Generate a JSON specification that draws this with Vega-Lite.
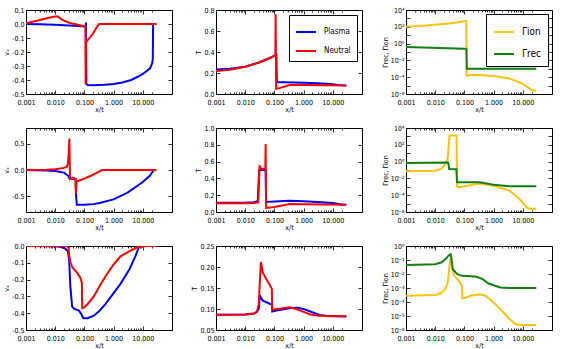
{
"$schema":"https://vega.github.io/schema/vega-lite/v6.json",
"padding":{"left":2,"top":5,"right":0,"bottom":0},
"autosize":{"type":"pad"},
"background":"white",
"bounds":"flush",
"spacing":{"row":34,"column":44},
"columns":3,
"resolve":{"scale":{"color":"independent"}},
"datasets":{
"p11":[
{"s":"Plasma","x":0.001,"y":0.0},{"s":"Plasma","x":0.003,"y":-0.002},{"s":"Plasma","x":0.01,"y":-0.005},{"s":"Plasma","x":0.03,"y":-0.01},{"s":"Plasma","x":0.06,"y":-0.014},{"s":"Plasma","x":0.1,"y":-0.018},{"s":"Plasma","x":0.11,"y":-0.02},{"s":"Plasma","x":0.113,"y":0.01},{"s":"Plasma","x":0.117,"y":-0.43},{"s":"Plasma","x":0.13,"y":-0.436},{"s":"Plasma","x":0.2,"y":-0.437},{"s":"Plasma","x":0.5,"y":-0.434},{"s":"Plasma","x":1,"y":-0.428},{"s":"Plasma","x":2,"y":-0.418},{"s":"Plasma","x":4,"y":-0.4},{"s":"Plasma","x":7,"y":-0.375},{"s":"Plasma","x":10,"y":-0.357},{"s":"Plasma","x":17.7,"y":-0.317},{"s":"Plasma","x":21,"y":-0.28},{"s":"Plasma","x":22,"y":-0.25},{"s":"Plasma","x":22.5,"y":0.0},{"s":"Plasma","x":29,"y":0.0},
{"s":"Neutral","x":0.001,"y":0.005},{"s":"Neutral","x":0.003,"y":0.028},{"s":"Neutral","x":0.006,"y":0.045},{"s":"Neutral","x":0.01,"y":0.054},{"s":"Neutral","x":0.012,"y":0.055},{"s":"Neutral","x":0.016,"y":0.035},{"s":"Neutral","x":0.022,"y":0.02},{"s":"Neutral","x":0.032,"y":0.007},{"s":"Neutral","x":0.06,"y":-0.005},{"s":"Neutral","x":0.1,"y":-0.016},{"s":"Neutral","x":0.108,"y":-0.02},{"s":"Neutral","x":0.11,"y":-0.43},{"s":"Neutral","x":0.114,"y":-0.13},{"s":"Neutral","x":0.15,"y":-0.1},{"s":"Neutral","x":0.2,"y":-0.065},{"s":"Neutral","x":0.27,"y":-0.02},{"s":"Neutral","x":0.32,"y":0.0},{"s":"Neutral","x":29,"y":0.0}
],
"p12":[
{"s":"Plasma","x":0.001,"y":0.234},{"s":"Plasma","x":0.003,"y":0.24},{"s":"Plasma","x":0.01,"y":0.26},{"s":"Plasma","x":0.03,"y":0.3},{"s":"Plasma","x":0.08,"y":0.35},{"s":"Plasma","x":0.1,"y":0.365},{"s":"Plasma","x":0.117,"y":0.372},{"s":"Plasma","x":0.121,"y":0.112},{"s":"Plasma","x":0.2,"y":0.112},{"s":"Plasma","x":0.5,"y":0.11},{"s":"Plasma","x":1,"y":0.108},{"s":"Plasma","x":3,"y":0.103},{"s":"Plasma","x":8,"y":0.095},{"s":"Plasma","x":15,"y":0.085},{"s":"Plasma","x":29,"y":0.08},
{"s":"Neutral","x":0.001,"y":0.219},{"s":"Neutral","x":0.003,"y":0.232},{"s":"Neutral","x":0.01,"y":0.26},{"s":"Neutral","x":0.03,"y":0.3},{"s":"Neutral","x":0.08,"y":0.35},{"s":"Neutral","x":0.1,"y":0.365},{"s":"Neutral","x":0.108,"y":0.372},{"s":"Neutral","x":0.11,"y":0.76},{"s":"Neutral","x":0.115,"y":0.05},{"s":"Neutral","x":0.15,"y":0.056},{"s":"Neutral","x":0.2,"y":0.066},{"s":"Neutral","x":0.33,"y":0.085},{"s":"Neutral","x":1,"y":0.085},{"s":"Neutral","x":5,"y":0.083},{"s":"Neutral","x":29,"y":0.08}
],
"p13":[
{"s":"Γion","x":0.001,"y":100},{"s":"Γion","x":0.003,"y":126},{"s":"Γion","x":0.01,"y":178},{"s":"Γion","x":0.03,"y":251},{"s":"Γion","x":0.06,"y":355},{"s":"Γion","x":0.1,"y":447},{"s":"Γion","x":0.116,"y":501},{"s":"Γion","x":0.12,"y":1.58e-4},{"s":"Γion","x":0.13,"y":1.41e-4},{"s":"Γion","x":0.15,"y":1.78e-4},{"s":"Γion","x":0.3,"y":1.78e-4},{"s":"Γion","x":1,"y":1.41e-4},{"s":"Γion","x":3.5,"y":6.9e-5},{"s":"Γion","x":10,"y":1.6e-5},{"s":"Γion","x":17.7,"y":4e-6},{"s":"Γion","x":22,"y":2.7e-6},{"s":"Γion","x":29,"y":2.7e-6},
{"s":"Γrec","x":0.001,"y":0.398},{"s":"Γrec","x":0.1,"y":0.251},{"s":"Γrec","x":0.117,"y":0.224},{"s":"Γrec","x":0.121,"y":0.001},{"s":"Γrec","x":29,"y":0.001}
],
"p21":[
{"s":"Plasma","x":0.001,"y":0.0},{"s":"Plasma","x":0.005,"y":-0.01},{"s":"Plasma","x":0.01,"y":-0.02},{"s":"Plasma","x":0.02,"y":-0.05},{"s":"Plasma","x":0.028,"y":-0.11},{"s":"Plasma","x":0.03,"y":-0.15},{"s":"Plasma","x":0.033,"y":-0.17},{"s":"Plasma","x":0.05,"y":-0.17},{"s":"Plasma","x":0.052,"y":-0.5},{"s":"Plasma","x":0.055,"y":-0.66},{"s":"Plasma","x":0.1,"y":-0.66},{"s":"Plasma","x":0.2,"y":-0.65},{"s":"Plasma","x":0.33,"y":-0.63},{"s":"Plasma","x":1,"y":-0.56},{"s":"Plasma","x":3,"y":-0.43},{"s":"Plasma","x":10,"y":-0.23},{"s":"Plasma","x":18,"y":-0.1},{"s":"Plasma","x":23,"y":-0.01},{"s":"Plasma","x":29,"y":0.0},
{"s":"Neutral","x":0.001,"y":0.0},{"s":"Neutral","x":0.005,"y":0.005},{"s":"Neutral","x":0.01,"y":0.015},{"s":"Neutral","x":0.02,"y":0.04},{"s":"Neutral","x":0.025,"y":0.06},{"s":"Neutral","x":0.027,"y":0.12},{"s":"Neutral","x":0.029,"y":0.3},{"s":"Neutral","x":0.0305,"y":0.6},{"s":"Neutral","x":0.032,"y":-0.1},{"s":"Neutral","x":0.033,"y":-0.17},{"s":"Neutral","x":0.04,"y":-0.15},{"s":"Neutral","x":0.05,"y":-0.17},{"s":"Neutral","x":0.051,"y":-0.45},{"s":"Neutral","x":0.054,"y":-0.22},{"s":"Neutral","x":0.1,"y":-0.165},{"s":"Neutral","x":0.165,"y":-0.11},{"s":"Neutral","x":0.33,"y":-0.025},{"s":"Neutral","x":0.4,"y":0.0},{"s":"Neutral","x":29,"y":0.0}
],
"p22":[
{"s":"Plasma","x":0.001,"y":0.111},{"s":"Plasma","x":0.01,"y":0.113},{"s":"Plasma","x":0.02,"y":0.116},{"s":"Plasma","x":0.027,"y":0.13},{"s":"Plasma","x":0.03,"y":0.5},{"s":"Plasma","x":0.05,"y":0.5},{"s":"Plasma","x":0.052,"y":0.12},{"s":"Plasma","x":0.1,"y":0.125},{"s":"Plasma","x":0.33,"y":0.135},{"s":"Plasma","x":1,"y":0.127},{"s":"Plasma","x":3,"y":0.12},{"s":"Plasma","x":10,"y":0.107},{"s":"Plasma","x":22,"y":0.087},{"s":"Plasma","x":29,"y":0.085},
{"s":"Neutral","x":0.001,"y":0.103},{"s":"Neutral","x":0.01,"y":0.105},{"s":"Neutral","x":0.02,"y":0.108},{"s":"Neutral","x":0.028,"y":0.115},{"s":"Neutral","x":0.031,"y":0.555},{"s":"Neutral","x":0.034,"y":0.516},{"s":"Neutral","x":0.049,"y":0.516},{"s":"Neutral","x":0.05,"y":0.81},{"s":"Neutral","x":0.052,"y":0.048},{"s":"Neutral","x":0.1,"y":0.06},{"s":"Neutral","x":0.33,"y":0.095},{"s":"Neutral","x":1,"y":0.093},{"s":"Neutral","x":5,"y":0.09},{"s":"Neutral","x":29,"y":0.087}
],
"p23":[
{"s":"Γion","x":0.001,"y":0.0692},{"s":"Γion","x":0.01,"y":0.0832},{"s":"Γion","x":0.016,"y":0.132},{"s":"Γion","x":0.022,"y":0.427},{"s":"Γion","x":0.027,"y":2.69},{"s":"Γion","x":0.029,"y":100},{"s":"Γion","x":0.031,"y":1259},{"s":"Γion","x":0.054,"y":1259},{"s":"Γion","x":0.056,"y":0.00115},{"s":"Γion","x":0.065,"y":8.9e-4},{"s":"Γion","x":0.1,"y":0.00115},{"s":"Γion","x":0.33,"y":0.00251},{"s":"Γion","x":1,"y":0.00135},{"s":"Γion","x":3.5,"y":3.47e-4},{"s":"Γion","x":7,"y":5.0e-5},{"s":"Γion","x":10,"y":1.26e-5},{"s":"Γion","x":14,"y":3.16e-6},{"s":"Γion","x":18,"y":2.5e-6},{"s":"Γion","x":29,"y":2.5e-6},
{"s":"Γrec","x":0.001,"y":0.676},{"s":"Γrec","x":0.027,"y":0.794},{"s":"Γrec","x":0.028,"y":0.794},{"s":"Γrec","x":0.03,"y":0.132},{"s":"Γrec","x":0.053,"y":0.126},{"s":"Γrec","x":0.056,"y":0.00339},{"s":"Γrec","x":0.33,"y":0.00339},{"s":"Γrec","x":1,"y":0.00178},{"s":"Γrec","x":3.5,"y":0.00115},{"s":"Γrec","x":29,"y":0.00115}
],
"p31":[
{"s":"Plasma","x":0.001,"y":0},{"s":"Plasma","x":0.01,"y":-0.002},{"s":"Plasma","x":0.016,"y":-0.006},{"s":"Plasma","x":0.022,"y":-0.016},{"s":"Plasma","x":0.027,"y":-0.03},{"s":"Plasma","x":0.03,"y":-0.08},{"s":"Plasma","x":0.033,"y":-0.24},{"s":"Plasma","x":0.038,"y":-0.36},{"s":"Plasma","x":0.045,"y":-0.375},{"s":"Plasma","x":0.065,"y":-0.385},{"s":"Plasma","x":0.078,"y":-0.405},{"s":"Plasma","x":0.092,"y":-0.43},{"s":"Plasma","x":0.13,"y":-0.43},{"s":"Plasma","x":0.21,"y":-0.415},{"s":"Plasma","x":0.33,"y":-0.385},{"s":"Plasma","x":0.53,"y":-0.345},{"s":"Plasma","x":1,"y":-0.28},{"s":"Plasma","x":1.7,"y":-0.227},{"s":"Plasma","x":3.5,"y":-0.138},{"s":"Plasma","x":5.6,"y":-0.06},{"s":"Plasma","x":7,"y":-0.016},{"s":"Plasma","x":8,"y":0},{"s":"Plasma","x":29,"y":0},
{"s":"Neutral","x":0.001,"y":0},{"s":"Neutral","x":0.025,"y":0},{"s":"Neutral","x":0.0284,"y":-0.01},{"s":"Neutral","x":0.031,"y":-0.07},{"s":"Neutral","x":0.0334,"y":-0.1},{"s":"Neutral","x":0.04,"y":-0.13},{"s":"Neutral","x":0.057,"y":-0.16},{"s":"Neutral","x":0.073,"y":-0.19},{"s":"Neutral","x":0.082,"y":-0.22},{"s":"Neutral","x":0.084,"y":-0.37},{"s":"Neutral","x":0.1,"y":-0.365},{"s":"Neutral","x":0.13,"y":-0.345},{"s":"Neutral","x":0.21,"y":-0.3},{"s":"Neutral","x":0.33,"y":-0.24},{"s":"Neutral","x":0.53,"y":-0.18},{"s":"Neutral","x":1,"y":-0.11},{"s":"Neutral","x":1.7,"y":-0.063},{"s":"Neutral","x":3.5,"y":-0.03},{"s":"Neutral","x":7,"y":-0.006},{"s":"Neutral","x":14,"y":0},{"s":"Neutral","x":29,"y":0}
],
"p32":[
{"s":"Plasma","x":0.001,"y":0.0865},{"s":"Plasma","x":0.01,"y":0.087},{"s":"Plasma","x":0.02,"y":0.089},{"s":"Plasma","x":0.025,"y":0.093},{"s":"Plasma","x":0.029,"y":0.1},{"s":"Plasma","x":0.032,"y":0.131},{"s":"Plasma","x":0.04,"y":0.12},{"s":"Plasma","x":0.073,"y":0.112},{"s":"Plasma","x":0.082,"y":0.11},{"s":"Plasma","x":0.084,"y":0.094},{"s":"Plasma","x":0.13,"y":0.097},{"s":"Plasma","x":0.33,"y":0.102},{"s":"Plasma","x":0.6,"y":0.103},{"s":"Plasma","x":1,"y":0.1},{"s":"Plasma","x":1.7,"y":0.094},{"s":"Plasma","x":3.5,"y":0.086},{"s":"Plasma","x":6,"y":0.084},{"s":"Plasma","x":29,"y":0.082},
{"s":"Neutral","x":0.001,"y":0.0865},{"s":"Neutral","x":0.01,"y":0.087},{"s":"Neutral","x":0.02,"y":0.089},{"s":"Neutral","x":0.025,"y":0.093},{"s":"Neutral","x":0.029,"y":0.11},{"s":"Neutral","x":0.032,"y":0.17},{"s":"Neutral","x":0.0345,"y":0.212},{"s":"Neutral","x":0.04,"y":0.187},{"s":"Neutral","x":0.057,"y":0.167},{"s":"Neutral","x":0.073,"y":0.155},{"s":"Neutral","x":0.082,"y":0.147},{"s":"Neutral","x":0.084,"y":0.098},{"s":"Neutral","x":0.13,"y":0.1},{"s":"Neutral","x":0.33,"y":0.104},{"s":"Neutral","x":0.55,"y":0.1},{"s":"Neutral","x":1,"y":0.093},{"s":"Neutral","x":1.7,"y":0.087},{"s":"Neutral","x":3.5,"y":0.084},{"s":"Neutral","x":8,"y":0.0825},{"s":"Neutral","x":29,"y":0.0825}
],
"p33":[
{"s":"Γion","x":0.001,"y":2.82e-4},{"s":"Γion","x":0.01,"y":3.16e-4},{"s":"Γion","x":0.016,"y":4.37e-4},{"s":"Γion","x":0.022,"y":8.32e-4},{"s":"Γion","x":0.027,"y":0.00251},{"s":"Γion","x":0.03,"y":0.0219},{"s":"Γion","x":0.0345,"y":0.257},{"s":"Γion","x":0.037,"y":0.038},{"s":"Γion","x":0.045,"y":0.00741},{"s":"Γion","x":0.065,"y":0.00324},{"s":"Γion","x":0.082,"y":0.00145},{"s":"Γion","x":0.085,"y":1.82e-4},{"s":"Γion","x":0.1,"y":1.9e-4},{"s":"Γion","x":0.165,"y":2.82e-4},{"s":"Γion","x":0.33,"y":3.63e-4},{"s":"Γion","x":0.53,"y":2.82e-4},{"s":"Γion","x":1,"y":9.3e-5},{"s":"Γion","x":1.7,"y":3.16e-5},{"s":"Γion","x":3.5,"y":6.2e-6},{"s":"Γion","x":5.6,"y":2.7e-6},{"s":"Γion","x":8.8,"y":2.3e-6},{"s":"Γion","x":29,"y":2.3e-6},
{"s":"Γrec","x":0.001,"y":0.0447},{"s":"Γrec","x":0.01,"y":0.0501},{"s":"Γrec","x":0.016,"y":0.0661},{"s":"Γrec","x":0.022,"y":0.112},{"s":"Γrec","x":0.028,"y":0.195},{"s":"Γrec","x":0.0335,"y":0.257},{"s":"Γrec","x":0.035,"y":0.19},{"s":"Γrec","x":0.04,"y":0.0219},{"s":"Γrec","x":0.057,"y":0.00977},{"s":"Γrec","x":0.082,"y":0.00741},{"s":"Γrec","x":0.13,"y":0.0072},{"s":"Γrec","x":0.26,"y":0.00631},{"s":"Γrec","x":0.42,"y":0.00427},{"s":"Γrec","x":0.67,"y":0.00209},{"s":"Γrec","x":1,"y":0.00158},{"s":"Γrec","x":1.7,"y":0.0011},{"s":"Γrec","x":3.5,"y":0.001},{"s":"Γrec","x":29,"y":0.001}
]
},
"concat":[
{"width":146,"height":84,"data":{"name":"p11"},"layer":[
 {"mark":{"type":"line","strokeWidth":2,"clip":true},"encoding":{
  "x":{"field":"x","type":"quantitative","scale":{"type":"log","domain":[0.001,29]},"axis":{"orient":"bottom","values":[0.001,0.01,0.1,1,10],"format":".3f","title":"x/t"}},
  "y":{"field":"y","type":"quantitative","scale":{"domain":[-0.5,0.1],"nice":false,"zero":false},"axis":{"orient":"left","values":[-0.5,-0.4,-0.3,-0.2,-0.1,0,0.1],"format":".1f","title":"vₓ"}},
  "color":{"field":"s","type":"nominal","scale":{"domain":["Plasma","Neutral"],"range":["#0000ff","#ff0000"]},"legend":null}}},
 {"mark":{"type":"line","opacity":0},"encoding":{
  "x":{"field":"x","type":"quantitative","axis":{"orient":"top","values":[0.001,0.01,0.1,1,10],"labels":false,"title":null}},
  "y":{"field":"y","type":"quantitative","axis":{"orient":"right","values":[-0.5,-0.4,-0.3,-0.2,-0.1,0,0.1],"labels":false,"title":null}}}},
 {"mark":{"type":"line","opacity":0},"encoding":{
  "x":{"field":"x","type":"quantitative","axis":{"orient":"bottom","values":[0.002,0.003,0.004,0.005,0.006,0.007,0.008,0.009,0.02,0.03,0.04,0.05,0.06,0.07,0.08,0.09,0.2,0.3,0.4,0.5,0.6,0.7,0.8,0.9,2,3,4,5,6,7,8,9,20],"labels":false,"title":null,"tickSize":-2}},
  "y":{"field":"y","type":"quantitative","axis":null}}},
 {"mark":{"type":"line","opacity":0},"encoding":{
  "x":{"field":"x","type":"quantitative","axis":{"orient":"top","values":[0.002,0.003,0.004,0.005,0.006,0.007,0.008,0.009,0.02,0.03,0.04,0.05,0.06,0.07,0.08,0.09,0.2,0.3,0.4,0.5,0.6,0.7,0.8,0.9,2,3,4,5,6,7,8,9,20],"labels":false,"title":null,"tickSize":-2}},
  "y":{"field":"y","type":"quantitative","axis":null}}}
],"resolve":{"axis":{"x":"independent","y":"independent"}}},

{"width":146,"height":84,"data":{"name":"p12"},"layer":[
 {"mark":{"type":"line","strokeWidth":2,"clip":true},"encoding":{
  "x":{"field":"x","type":"quantitative","scale":{"type":"log","domain":[0.001,29]},"axis":{"orient":"bottom","values":[0.001,0.01,0.1,1,10],"format":".3f","title":"x/t"}},
  "y":{"field":"y","type":"quantitative","scale":{"domain":[0,0.8],"nice":false,"zero":false},"axis":{"orient":"left","values":[0,0.2,0.4,0.6,0.8],"format":".1f","title":"T"}},
  "color":{"field":"s","type":"nominal","scale":{"domain":["Plasma","Neutral"],"range":["#0000ff","#ff0000"]},"legend":{"orient":"top-right","offset":5,"title":null,"labelFontSize":8,"padding":6,"rowPadding":4}}}},
 {"mark":{"type":"line","opacity":0},"encoding":{
  "x":{"field":"x","type":"quantitative","axis":{"orient":"top","values":[0.001,0.01,0.1,1,10],"labels":false,"title":null}},
  "y":{"field":"y","type":"quantitative","axis":{"orient":"right","values":[0,0.2,0.4,0.6,0.8],"labels":false,"title":null}}}},
 {"mark":{"type":"line","opacity":0},"encoding":{
  "x":{"field":"x","type":"quantitative","axis":{"orient":"bottom","values":[0.002,0.003,0.004,0.005,0.006,0.007,0.008,0.009,0.02,0.03,0.04,0.05,0.06,0.07,0.08,0.09,0.2,0.3,0.4,0.5,0.6,0.7,0.8,0.9,2,3,4,5,6,7,8,9,20],"labels":false,"title":null,"tickSize":-2}},
  "y":{"field":"y","type":"quantitative","axis":null}}},
 {"mark":{"type":"line","opacity":0},"encoding":{
  "x":{"field":"x","type":"quantitative","axis":{"orient":"top","values":[0.002,0.003,0.004,0.005,0.006,0.007,0.008,0.009,0.02,0.03,0.04,0.05,0.06,0.07,0.08,0.09,0.2,0.3,0.4,0.5,0.6,0.7,0.8,0.9,2,3,4,5,6,7,8,9,20],"labels":false,"title":null,"tickSize":-2}},
  "y":{"field":"y","type":"quantitative","axis":null}}}
],"resolve":{"axis":{"x":"independent","y":"independent"}}},

{"width":146,"height":84,"data":{"name":"p13"},"layer":[
 {"mark":{"type":"line","strokeWidth":2,"clip":true},"encoding":{
  "x":{"field":"x","type":"quantitative","scale":{"type":"log","domain":[0.001,29]},"axis":{"orient":"bottom","values":[0.001,0.01,0.1,1,10],"format":".3f","title":"x/t"}},
  "y":{"field":"y","type":"quantitative","scale":{"type":"log","domain":[1e-6,1e4],"nice":false},"axis":{"orient":"left","values":[1e-6,1e-5,1e-4,1e-3,1e-2,1e-1,1,10,100,1000,10000],"labelExpr":"round(log(datum.value)/LN10) % 2 == 0 ? '10' + ['⁻⁶','⁻⁵','⁻⁴','⁻³','⁻²','⁻¹','⁰','¹','²','³','⁴'][round(log(datum.value)/LN10)+6] : ''","title":"Γrec, Γion"}},
  "color":{"field":"s","type":"nominal","scale":{"domain":["Γion","Γrec"],"range":["#ffc20e","#108010"]},"legend":{"orient":"top-right","offset":4,"title":null,"labelFontSize":10,"padding":7,"rowPadding":6}}}},
 {"mark":{"type":"line","opacity":0},"encoding":{
  "x":{"field":"x","type":"quantitative","axis":{"orient":"top","values":[0.001,0.01,0.1,1,10],"labels":false,"title":null}},
  "y":{"field":"y","type":"quantitative","axis":{"orient":"right","values":[1e-6,1e-5,1e-4,1e-3,1e-2,1e-1,1,10,100,1000,10000],"labels":false,"title":null}}}},
 {"mark":{"type":"line","opacity":0},"encoding":{
  "x":{"field":"x","type":"quantitative","axis":{"orient":"bottom","values":[0.002,0.003,0.004,0.005,0.006,0.007,0.008,0.009,0.02,0.03,0.04,0.05,0.06,0.07,0.08,0.09,0.2,0.3,0.4,0.5,0.6,0.7,0.8,0.9,2,3,4,5,6,7,8,9,20],"labels":false,"title":null,"tickSize":-2}},
  "y":{"field":"y","type":"quantitative","axis":null}}},
 {"mark":{"type":"line","opacity":0},"encoding":{
  "x":{"field":"x","type":"quantitative","axis":{"orient":"top","values":[0.002,0.003,0.004,0.005,0.006,0.007,0.008,0.009,0.02,0.03,0.04,0.05,0.06,0.07,0.08,0.09,0.2,0.3,0.4,0.5,0.6,0.7,0.8,0.9,2,3,4,5,6,7,8,9,20],"labels":false,"title":null,"tickSize":-2}},
  "y":{"field":"y","type":"quantitative","axis":null}}}
],"resolve":{"axis":{"x":"independent","y":"independent"}}},

{"width":146,"height":84,"data":{"name":"p21"},"layer":[
 {"mark":{"type":"line","strokeWidth":2,"clip":true},"encoding":{
  "x":{"field":"x","type":"quantitative","scale":{"type":"log","domain":[0.001,29]},"axis":{"orient":"bottom","values":[0.001,0.01,0.1,1,10],"format":".3f","title":"x/t"}},
  "y":{"field":"y","type":"quantitative","scale":{"domain":[-0.8,0.8],"nice":false,"zero":false},"axis":{"orient":"left","values":[-0.5,0,0.5],"format":".1f","title":"vₓ"}},
  "color":{"field":"s","type":"nominal","scale":{"domain":["Plasma","Neutral"],"range":["#0000ff","#ff0000"]},"legend":null}}},
 {"mark":{"type":"line","opacity":0},"encoding":{
  "x":{"field":"x","type":"quantitative","axis":{"orient":"top","values":[0.001,0.01,0.1,1,10],"labels":false,"title":null}},
  "y":{"field":"y","type":"quantitative","axis":{"orient":"right","values":[-0.5,0,0.5],"labels":false,"title":null}}}},
 {"mark":{"type":"line","opacity":0},"encoding":{
  "x":{"field":"x","type":"quantitative","axis":{"orient":"bottom","values":[0.002,0.003,0.004,0.005,0.006,0.007,0.008,0.009,0.02,0.03,0.04,0.05,0.06,0.07,0.08,0.09,0.2,0.3,0.4,0.5,0.6,0.7,0.8,0.9,2,3,4,5,6,7,8,9,20],"labels":false,"title":null,"tickSize":-2}},
  "y":{"field":"y","type":"quantitative","axis":null}}},
 {"mark":{"type":"line","opacity":0},"encoding":{
  "x":{"field":"x","type":"quantitative","axis":{"orient":"top","values":[0.002,0.003,0.004,0.005,0.006,0.007,0.008,0.009,0.02,0.03,0.04,0.05,0.06,0.07,0.08,0.09,0.2,0.3,0.4,0.5,0.6,0.7,0.8,0.9,2,3,4,5,6,7,8,9,20],"labels":false,"title":null,"tickSize":-2}},
  "y":{"field":"y","type":"quantitative","axis":null}}}
],"resolve":{"axis":{"x":"independent","y":"independent"}}},

{"width":146,"height":84,"data":{"name":"p22"},"layer":[
 {"mark":{"type":"line","strokeWidth":2,"clip":true},"encoding":{
  "x":{"field":"x","type":"quantitative","scale":{"type":"log","domain":[0.001,29]},"axis":{"orient":"bottom","values":[0.001,0.01,0.1,1,10],"format":".3f","title":"x/t"}},
  "y":{"field":"y","type":"quantitative","scale":{"domain":[0,1],"nice":false,"zero":false},"axis":{"orient":"left","values":[0,0.2,0.4,0.6,0.8,1],"format":".1f","title":"T"}},
  "color":{"field":"s","type":"nominal","scale":{"domain":["Plasma","Neutral"],"range":["#0000ff","#ff0000"]},"legend":null}}},
 {"mark":{"type":"line","opacity":0},"encoding":{
  "x":{"field":"x","type":"quantitative","axis":{"orient":"top","values":[0.001,0.01,0.1,1,10],"labels":false,"title":null}},
  "y":{"field":"y","type":"quantitative","axis":{"orient":"right","values":[0,0.2,0.4,0.6,0.8,1],"labels":false,"title":null}}}},
 {"mark":{"type":"line","opacity":0},"encoding":{
  "x":{"field":"x","type":"quantitative","axis":{"orient":"bottom","values":[0.002,0.003,0.004,0.005,0.006,0.007,0.008,0.009,0.02,0.03,0.04,0.05,0.06,0.07,0.08,0.09,0.2,0.3,0.4,0.5,0.6,0.7,0.8,0.9,2,3,4,5,6,7,8,9,20],"labels":false,"title":null,"tickSize":-2}},
  "y":{"field":"y","type":"quantitative","axis":null}}},
 {"mark":{"type":"line","opacity":0},"encoding":{
  "x":{"field":"x","type":"quantitative","axis":{"orient":"top","values":[0.002,0.003,0.004,0.005,0.006,0.007,0.008,0.009,0.02,0.03,0.04,0.05,0.06,0.07,0.08,0.09,0.2,0.3,0.4,0.5,0.6,0.7,0.8,0.9,2,3,4,5,6,7,8,9,20],"labels":false,"title":null,"tickSize":-2}},
  "y":{"field":"y","type":"quantitative","axis":null}}}
],"resolve":{"axis":{"x":"independent","y":"independent"}}},

{"width":146,"height":84,"data":{"name":"p23"},"layer":[
 {"mark":{"type":"line","strokeWidth":2,"clip":true},"encoding":{
  "x":{"field":"x","type":"quantitative","scale":{"type":"log","domain":[0.001,29]},"axis":{"orient":"bottom","values":[0.001,0.01,0.1,1,10],"format":".3f","title":"x/t"}},
  "y":{"field":"y","type":"quantitative","scale":{"type":"log","domain":[1e-6,1e4],"nice":false},"axis":{"orient":"left","values":[1e-6,1e-5,1e-4,1e-3,1e-2,1e-1,1,10,100,1000,10000],"labelExpr":"round(log(datum.value)/LN10) % 2 == 0 ? '10' + ['⁻⁶','⁻⁵','⁻⁴','⁻³','⁻²','⁻¹','⁰','¹','²','³','⁴'][round(log(datum.value)/LN10)+6] : ''","title":"Γrec, Γion"}},
  "color":{"field":"s","type":"nominal","scale":{"domain":["Γion","Γrec"],"range":["#ffc20e","#108010"]},"legend":null}}},
 {"mark":{"type":"line","opacity":0},"encoding":{
  "x":{"field":"x","type":"quantitative","axis":{"orient":"top","values":[0.001,0.01,0.1,1,10],"labels":false,"title":null}},
  "y":{"field":"y","type":"quantitative","axis":{"orient":"right","values":[1e-6,1e-5,1e-4,1e-3,1e-2,1e-1,1,10,100,1000,10000],"labels":false,"title":null}}}},
 {"mark":{"type":"line","opacity":0},"encoding":{
  "x":{"field":"x","type":"quantitative","axis":{"orient":"bottom","values":[0.002,0.003,0.004,0.005,0.006,0.007,0.008,0.009,0.02,0.03,0.04,0.05,0.06,0.07,0.08,0.09,0.2,0.3,0.4,0.5,0.6,0.7,0.8,0.9,2,3,4,5,6,7,8,9,20],"labels":false,"title":null,"tickSize":-2}},
  "y":{"field":"y","type":"quantitative","axis":null}}},
 {"mark":{"type":"line","opacity":0},"encoding":{
  "x":{"field":"x","type":"quantitative","axis":{"orient":"top","values":[0.002,0.003,0.004,0.005,0.006,0.007,0.008,0.009,0.02,0.03,0.04,0.05,0.06,0.07,0.08,0.09,0.2,0.3,0.4,0.5,0.6,0.7,0.8,0.9,2,3,4,5,6,7,8,9,20],"labels":false,"title":null,"tickSize":-2}},
  "y":{"field":"y","type":"quantitative","axis":null}}}
],"resolve":{"axis":{"x":"independent","y":"independent"}}},

{"width":146,"height":84,"data":{"name":"p31"},"layer":[
 {"mark":{"type":"line","strokeWidth":2,"clip":true},"encoding":{
  "x":{"field":"x","type":"quantitative","scale":{"type":"log","domain":[0.001,29]},"axis":{"orient":"bottom","values":[0.001,0.01,0.1,1,10],"format":".3f","title":"x/t"}},
  "y":{"field":"y","type":"quantitative","scale":{"domain":[-0.5,0],"nice":false,"zero":false},"axis":{"orient":"left","values":[-0.5,-0.4,-0.3,-0.2,-0.1,0],"format":".1f","title":"vₓ"}},
  "color":{"field":"s","type":"nominal","scale":{"domain":["Plasma","Neutral"],"range":["#0000ff","#ff0000"]},"legend":null}}},
 {"mark":{"type":"line","opacity":0},"encoding":{
  "x":{"field":"x","type":"quantitative","axis":{"orient":"top","values":[0.001,0.01,0.1,1,10],"labels":false,"title":null}},
  "y":{"field":"y","type":"quantitative","axis":{"orient":"right","values":[-0.5,-0.4,-0.3,-0.2,-0.1,0],"labels":false,"title":null}}}},
 {"mark":{"type":"line","opacity":0},"encoding":{
  "x":{"field":"x","type":"quantitative","axis":{"orient":"bottom","values":[0.002,0.003,0.004,0.005,0.006,0.007,0.008,0.009,0.02,0.03,0.04,0.05,0.06,0.07,0.08,0.09,0.2,0.3,0.4,0.5,0.6,0.7,0.8,0.9,2,3,4,5,6,7,8,9,20],"labels":false,"title":null,"tickSize":-2}},
  "y":{"field":"y","type":"quantitative","axis":null}}},
 {"mark":{"type":"line","opacity":0},"encoding":{
  "x":{"field":"x","type":"quantitative","axis":{"orient":"top","values":[0.002,0.003,0.004,0.005,0.006,0.007,0.008,0.009,0.02,0.03,0.04,0.05,0.06,0.07,0.08,0.09,0.2,0.3,0.4,0.5,0.6,0.7,0.8,0.9,2,3,4,5,6,7,8,9,20],"labels":false,"title":null,"tickSize":-2}},
  "y":{"field":"y","type":"quantitative","axis":null}}}
],"resolve":{"axis":{"x":"independent","y":"independent"}}},

{"width":146,"height":84,"data":{"name":"p32"},"layer":[
 {"mark":{"type":"line","strokeWidth":2,"clip":true},"encoding":{
  "x":{"field":"x","type":"quantitative","scale":{"type":"log","domain":[0.001,29]},"axis":{"orient":"bottom","values":[0.001,0.01,0.1,1,10],"format":".3f","title":"x/t"}},
  "y":{"field":"y","type":"quantitative","scale":{"domain":[0.05,0.25],"nice":false,"zero":false},"axis":{"orient":"left","values":[0.05,0.1,0.15,0.2,0.25],"format":".2f","title":"T"}},
  "color":{"field":"s","type":"nominal","scale":{"domain":["Plasma","Neutral"],"range":["#0000ff","#ff0000"]},"legend":null}}},
 {"mark":{"type":"line","opacity":0},"encoding":{
  "x":{"field":"x","type":"quantitative","axis":{"orient":"top","values":[0.001,0.01,0.1,1,10],"labels":false,"title":null}},
  "y":{"field":"y","type":"quantitative","axis":{"orient":"right","values":[0.05,0.1,0.15,0.2,0.25],"labels":false,"title":null}}}},
 {"mark":{"type":"line","opacity":0},"encoding":{
  "x":{"field":"x","type":"quantitative","axis":{"orient":"bottom","values":[0.002,0.003,0.004,0.005,0.006,0.007,0.008,0.009,0.02,0.03,0.04,0.05,0.06,0.07,0.08,0.09,0.2,0.3,0.4,0.5,0.6,0.7,0.8,0.9,2,3,4,5,6,7,8,9,20],"labels":false,"title":null,"tickSize":-2}},
  "y":{"field":"y","type":"quantitative","axis":null}}},
 {"mark":{"type":"line","opacity":0},"encoding":{
  "x":{"field":"x","type":"quantitative","axis":{"orient":"top","values":[0.002,0.003,0.004,0.005,0.006,0.007,0.008,0.009,0.02,0.03,0.04,0.05,0.06,0.07,0.08,0.09,0.2,0.3,0.4,0.5,0.6,0.7,0.8,0.9,2,3,4,5,6,7,8,9,20],"labels":false,"title":null,"tickSize":-2}},
  "y":{"field":"y","type":"quantitative","axis":null}}}
],"resolve":{"axis":{"x":"independent","y":"independent"}}},

{"width":146,"height":84,"data":{"name":"p33"},"layer":[
 {"mark":{"type":"line","strokeWidth":2,"clip":true},"encoding":{
  "x":{"field":"x","type":"quantitative","scale":{"type":"log","domain":[0.001,29]},"axis":{"orient":"bottom","values":[0.001,0.01,0.1,1,10],"format":".3f","title":"x/t"}},
  "y":{"field":"y","type":"quantitative","scale":{"type":"log","domain":[1e-6,1],"nice":false},"axis":{"orient":"left","values":[1e-6,1e-5,1e-4,1e-3,1e-2,1e-1,1],"labelExpr":"'10' + ['⁻⁶','⁻⁵','⁻⁴','⁻³','⁻²','⁻¹','⁰'][round(log(datum.value)/LN10)+6]","title":"Γrec, Γion"}},
  "color":{"field":"s","type":"nominal","scale":{"domain":["Γion","Γrec"],"range":["#ffc20e","#108010"]},"legend":null}}},
 {"mark":{"type":"line","opacity":0},"encoding":{
  "x":{"field":"x","type":"quantitative","axis":{"orient":"top","values":[0.001,0.01,0.1,1,10],"labels":false,"title":null}},
  "y":{"field":"y","type":"quantitative","axis":{"orient":"right","values":[1e-6,1e-5,1e-4,1e-3,1e-2,1e-1,1],"labels":false,"title":null}}}},
 {"mark":{"type":"line","opacity":0},"encoding":{
  "x":{"field":"x","type":"quantitative","axis":{"orient":"bottom","values":[0.002,0.003,0.004,0.005,0.006,0.007,0.008,0.009,0.02,0.03,0.04,0.05,0.06,0.07,0.08,0.09,0.2,0.3,0.4,0.5,0.6,0.7,0.8,0.9,2,3,4,5,6,7,8,9,20],"labels":false,"title":null,"tickSize":-2}},
  "y":{"field":"y","type":"quantitative","axis":null}}},
 {"mark":{"type":"line","opacity":0},"encoding":{
  "x":{"field":"x","type":"quantitative","axis":{"orient":"top","values":[0.002,0.003,0.004,0.005,0.006,0.007,0.008,0.009,0.02,0.03,0.04,0.05,0.06,0.07,0.08,0.09,0.2,0.3,0.4,0.5,0.6,0.7,0.8,0.9,2,3,4,5,6,7,8,9,20],"labels":false,"title":null,"tickSize":-2}},
  "y":{"field":"y","type":"quantitative","axis":null}}}
],"resolve":{"axis":{"x":"independent","y":"independent"}}}
],
"config":{
 "locale":{"number":{"decimal":".","thousands":",","grouping":[3],"currency":["$",""],"minus":"-"}},
 "font":"DejaVu Sans Condensed, DejaVu Sans",
 "view":{"stroke":"black","strokeWidth":1},
 "axis":{"domain":false,"grid":false,"tickColor":"black","tickWidth":0.8,"tickSize":-4,"labelPadding":6,"labelColor":"black","labelFont":"DejaVu Sans Condensed, DejaVu Sans","labelFontSize":7,"labelFlush":false,"labelOverlap":false,"labelBound":false,"titleFont":"DejaVu Sans Condensed, DejaVu Sans","titleFontSize":7,"titleFontWeight":"normal","titleColor":"black","titlePadding":2},
 "axisX":{"labelPadding":8,"titlePadding":0},
 "legend":{"strokeColor":"black","fillColor":"white","cornerRadius":0,"symbolType":"stroke","symbolStrokeWidth":2.5,"symbolSize":400,"labelOffset":7,"labelColor":"black","labelFont":"DejaVu Sans Condensed, DejaVu Sans"},
 "line":{"strokeWidth":2}
}
}
